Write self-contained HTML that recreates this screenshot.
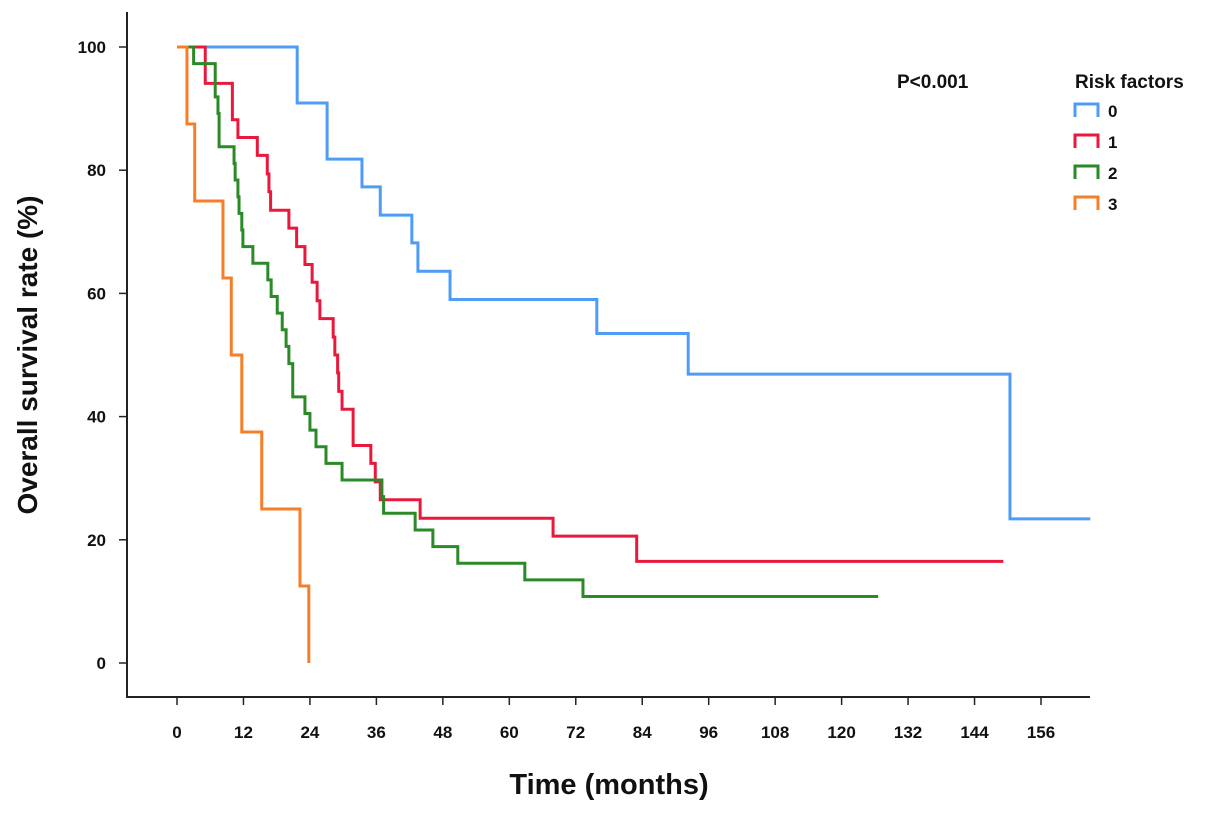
<!DOCTYPE html>
<html><head><meta charset="utf-8"><style>
body{margin:0;background:#fff}
svg text{font-family:"Liberation Sans",sans-serif;font-weight:bold;fill:#111}
</style></head><body>
<svg id="c" width="1205" height="815">
<g id="axes"></g>
<g id="curves"></g>
<text x="28" y="355" font-size="28" text-anchor="middle" transform="rotate(-90 28 355) translate(0 9)">Overall survival rate (%)</text>
<text x="609" y="794" font-size="29" text-anchor="middle">Time (months)</text>
<text x="897" y="88" font-size="19">P&lt;0.001</text>
<text x="1075" y="88" font-size="19">Risk factors</text>
<g id="legend"></g>
</svg>
<script>
const xTicks=[0,12,24,36,48,60,72,84,96,108,120,132,144,156];
const yTicks=[0,20,40,60,80,100];
const groups=["0","1","2","3"];
const colors=["#4f9cf5","#e8193c","#2a8a27","#f57f28"];
const blueT=[0,21.7,27.1,33.4,36.7,42.4,43.5,49.3,75.8,92.3,150.4];
const blueV=[100,90.9,81.8,77.3,72.7,68.2,63.6,59,53.5,46.9,23.4];
const blueEnd=164.9;
const redT=[0,5.1,10,11,14.5,16.3,16.6,16.9,20.2,21.6,23.1,24.4,25.3,25.8,28.2,28.5,29,29.2,29.8,31.8,35,35.8,36.7,43.9,67.9,83];
const redV=[100,94.1,88.2,85.3,82.4,79.4,76.5,73.5,70.6,67.6,64.7,61.8,58.8,55.9,52.9,50,47.1,44.1,41.2,35.3,32.4,29.4,26.5,23.5,20.6,16.5];
const redEnd=149.2;
const greenT=[0,3,6.9,7.4,7.6,10.3,10.5,11,11.2,11.7,11.9,13.7,16.4,17,18.1,19,19.7,20.2,20.9,23.1,24,25.1,26.9,29.8,37,37.3,43,46.2,50.7,62.8,73.3];
const greenV=[100,97.3,91.9,89.2,83.8,81.1,78.4,75.7,73,70.3,67.6,64.9,62.2,59.5,56.8,54.1,51.4,48.6,43.2,40.5,37.8,35.1,32.4,29.7,27,24.3,21.6,18.9,16.2,13.5,10.8];
const greenEnd=126.6;
const orangeT=[0,1.8,3.2,8.3,9.8,11.7,15.3,22.2,23.8];
const orangeV=[100,87.5,75,62.5,50,37.5,25,12.5,0];
const orangeEnd=23.8;

const NS="http://www.w3.org/2000/svg";
const sx=m=>177+m*(864/156);
const sy=v=>663-v*6.16;
function mk(tag,attrs,parent){const e=document.createElementNS(NS,tag);for(const k in attrs)e.setAttribute(k,attrs[k]);parent.appendChild(e);return e;}
const axes=document.getElementById('axes');
let a=mk('path',{d:'M127,12V697H1090',fill:'none',stroke:'#222','stroke-width':2},axes);


xTicks.forEach(t=>{
  const l=mk('line',{x1:sx(t),x2:sx(t),y1:697,y2:705,stroke:'#222','stroke-width':1.5},axes);
  
  
  const tx=mk('text',{x:sx(t),y:738,'font-size':17,'text-anchor':'middle'},axes);
  tx.textContent=t;
  
  
});
yTicks.forEach(t=>{
  const l=mk('line',{x1:119,x2:127,y1:sy(t),y2:sy(t),stroke:'#222','stroke-width':1.5},axes);
  
  
  const tx=mk('text',{x:106,y:sy(t)+6,'font-size':17,'text-anchor':'end'},axes);
  tx.textContent=t;
  
  
});
const series=[[blueT,blueV,blueEnd],[redT,redV,redEnd],[greenT,greenV,greenEnd],[orangeT,orangeV,orangeEnd]];
const curves=document.getElementById('curves');
series.forEach((s,i)=>{
  const [T,V,end]=s;
  let d='M'+sx(T[0])+','+sy(V[0]);
  for(let k=1;k<T.length;k++){d+='H'+sx(T[k])+'V'+sy(V[k]);}
  d+='H'+sx(end);
  const p=mk('path',{d:d,fill:'none',stroke:colors[i],'stroke-width':3},curves);
  
  
});
const lg=document.getElementById('legend');
groups.forEach((g,i)=>{
  const y=110+i*31;
  const p=mk('path',{d:`M1075,${y+7}V${y-6}H1098V${y+7}`,fill:'none',stroke:colors[i],'stroke-width':3},lg);
  
  
  const t=mk('text',{x:1108,y:y+7,'font-size':17},lg);
  t.textContent=g;
  
  
});
</script>
</body></html>
